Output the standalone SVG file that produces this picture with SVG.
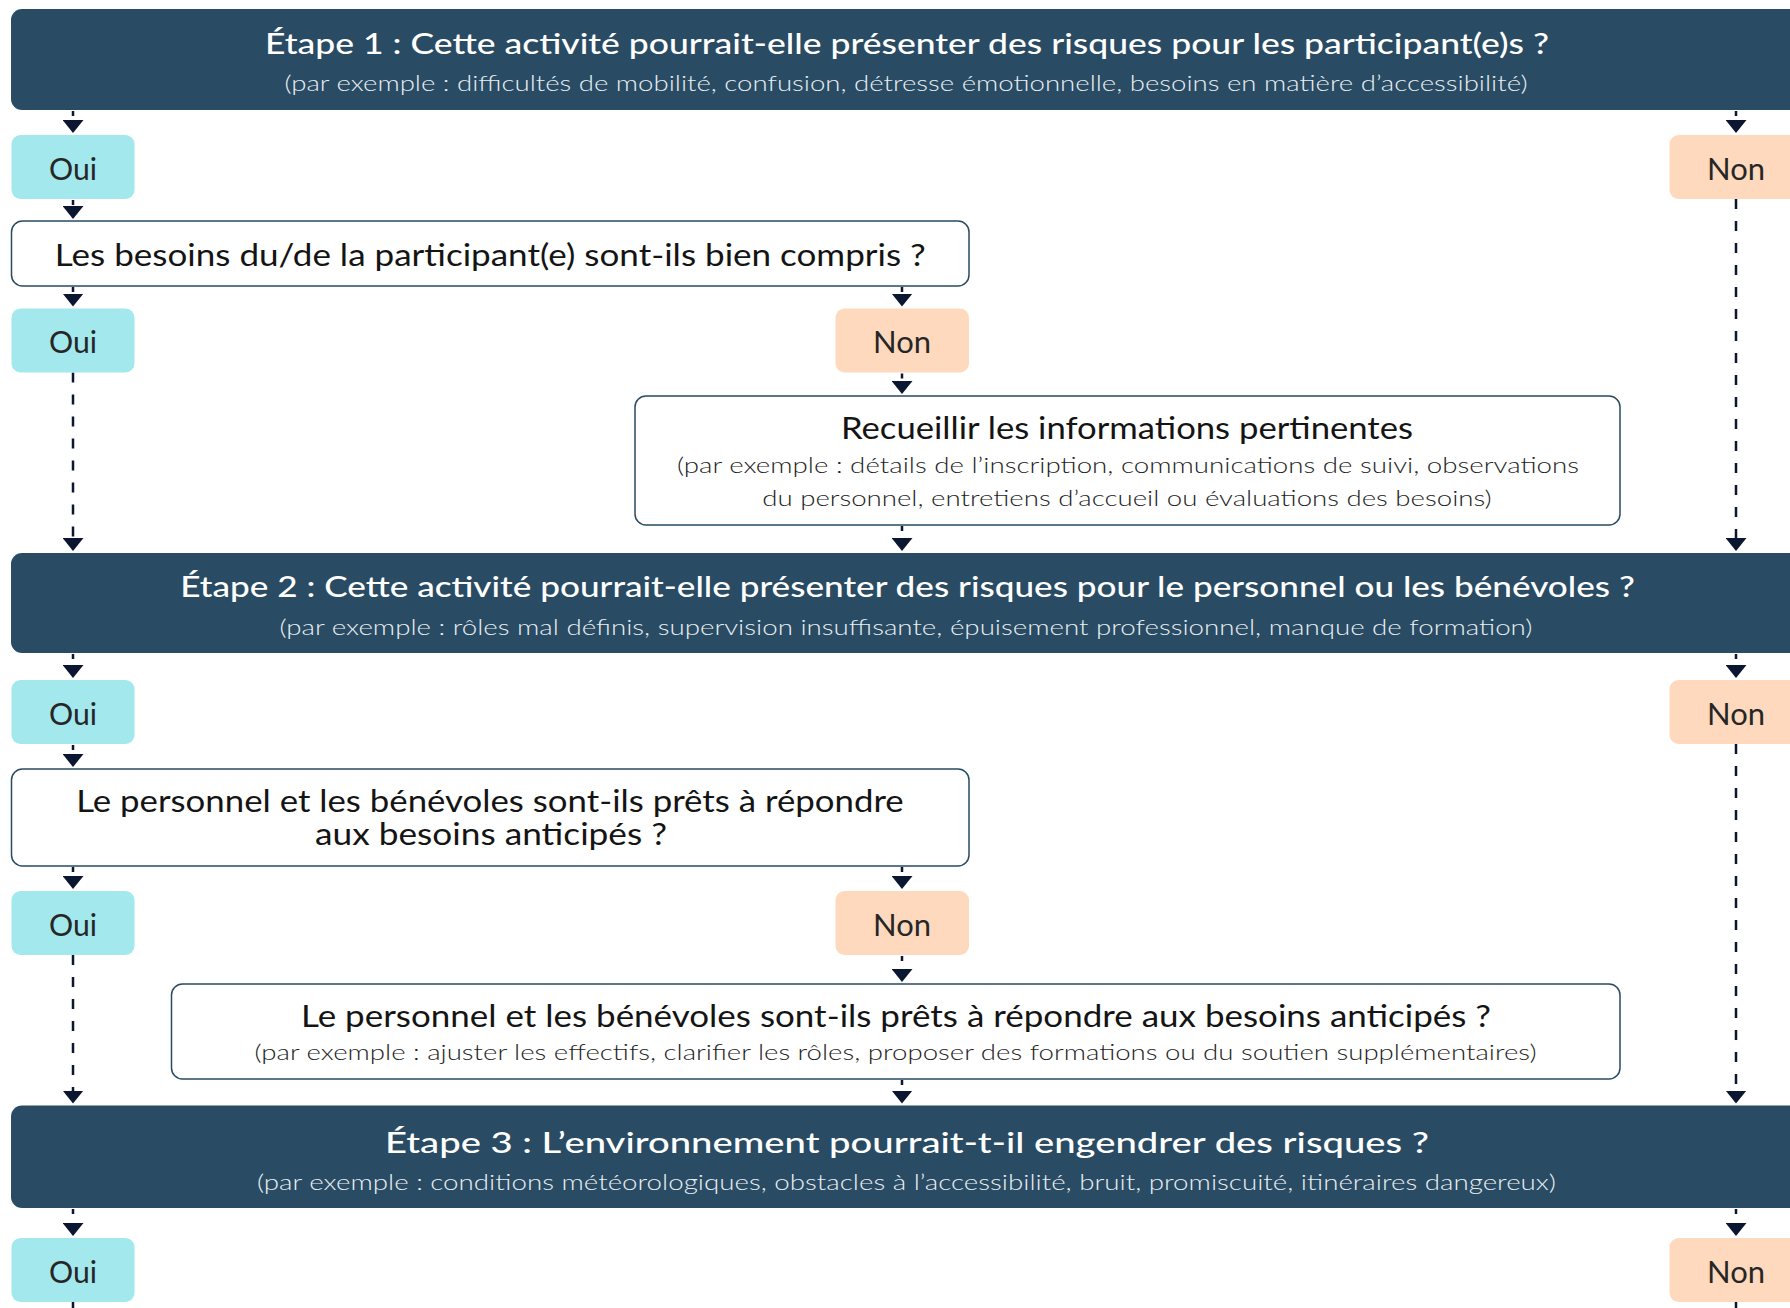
<svg xmlns="http://www.w3.org/2000/svg" width="1790" height="1308" viewBox="0 0 1790 1308">
<defs>
<style>
.step{fill:#294b63}
.oui{fill:#a2e8ec}
.non{fill:#fed9bd}
.box{fill:#ffffff;stroke:#294b63;stroke-width:1.5}
.t{font-family:Lato,"Liberation Sans",sans-serif;text-anchor:middle}
.ttl{font-size:29px;font-weight:500;fill:#ffffff}
.tsub{font-size:22px;font-weight:300;fill:#e8eef2}
.nt{font-size:30px;font-weight:400;fill:#141414}
.ns{font-size:22px;font-weight:300;fill:#1e1e1e}
.yn{font-size:30px;font-weight:400;fill:#262626}
.c{fill:none;stroke:#0b1730;stroke-width:2.5;marker-end:url(#ah)}
.long{stroke-dasharray:10 12}
.short{stroke-dasharray:0 1 5 100}
</style>
<marker id="ah" markerUnits="userSpaceOnUse" markerWidth="13" markerHeight="21" refX="11" refY="10.5" orient="auto" viewBox="0 0 13 21">
<path d="M0,0 L13,10.5 L0,21 Z" fill="#0b1730"/>
</marker>
</defs>
<rect width="1790" height="1308" fill="#ffffff"/>

<g id="connectors">
<path class="c short" d="M73,110 V131"/>
<path class="c short" d="M1736,110 V131"/>
<path class="c short" d="M73,199 V217"/>
<path class="c short" d="M73,286 V304.5"/>
<path class="c short" d="M902,286 V304.5"/>
<path class="c short" d="M902,372.5 V392"/>
<path class="c long" d="M73,372.5 V549"/>
<path class="c short" d="M902,525 V549"/>
<path class="c long" d="M1736,199 V549"/>
<path class="c short" d="M73,653 V676"/>
<path class="c short" d="M1736,653 V676"/>
<path class="c short" d="M73,744 V765"/>
<path class="c short" d="M73,866 V887"/>
<path class="c short" d="M902,866 V887"/>
<path class="c short" d="M902,955 V980"/>
<path class="c long" d="M73,955 V1101.5"/>
<path class="c short" d="M902,1079 V1101.5"/>
<path class="c long" d="M1736,744 V1101.5"/>
<path class="c short" d="M73,1208 V1234"/>
<path class="c short" d="M1736,1208 V1234"/>
<path class="long" fill="none" stroke="#0b1730" stroke-width="2.5" d="M73,1302 V1330"/>
<path class="long" fill="none" stroke="#0b1730" stroke-width="2.5" d="M1736,1302 V1330"/>
</g>

<g id="step1">
<rect class="step" x="11" y="9" width="1792" height="101" rx="11"/>
<text class="t ttl" x="907" y="53.5" textLength="1284" lengthAdjust="spacingAndGlyphs">Étape 1 : Cette activité pourrait-elle présenter des risques pour les participant(e)s ?</text>
<text class="t tsub" x="906" y="90.5" textLength="1243" lengthAdjust="spacingAndGlyphs">(par exemple : difficultés de mobilité, confusion, détresse émotionnelle, besoins en matière d’accessibilité)</text>
</g>

<g id="oui1"><rect class="oui" x="11.5" y="135" width="123" height="64" rx="9"/><text class="t yn" x="73" y="179.5" textLength="48" lengthAdjust="spacingAndGlyphs">Oui</text></g>
<g id="non1"><rect class="non" x="1669.5" y="135" width="134" height="64" rx="9"/><text class="t yn" x="1736" y="179.5" textLength="58" lengthAdjust="spacingAndGlyphs">Non</text></g>

<g id="q1">
<rect class="box" x="11.5" y="221" width="957.5" height="65" rx="11"/>
<text class="t nt" x="490.3" y="266" textLength="871" lengthAdjust="spacingAndGlyphs">Les besoins du/de la participant(e) sont-ils bien compris ?</text>
</g>

<g id="oui2"><rect class="oui" x="11.5" y="308.5" width="123" height="64" rx="9"/><text class="t yn" x="73" y="353" textLength="48" lengthAdjust="spacingAndGlyphs">Oui</text></g>
<g id="non2"><rect class="non" x="835.5" y="308.5" width="133.5" height="64" rx="9"/><text class="t yn" x="902" y="353" textLength="58" lengthAdjust="spacingAndGlyphs">Non</text></g>

<g id="gather">
<rect class="box" x="635" y="396" width="985" height="129" rx="11"/>
<text class="t nt" x="1127" y="439.3" textLength="572" lengthAdjust="spacingAndGlyphs">Recueillir les informations pertinentes</text>
<text class="t ns" x="1128" y="473" textLength="902" lengthAdjust="spacingAndGlyphs">(par exemple : détails de l’inscription, communications de suivi, observations</text>
<text class="t ns" x="1127" y="506" textLength="729.5" lengthAdjust="spacingAndGlyphs">du personnel, entretiens d’accueil ou évaluations des besoins)</text>
</g>

<g id="step2">
<rect class="step" x="11" y="553" width="1792" height="100" rx="11"/>
<text class="t ttl" x="907.5" y="596.7" textLength="1454.5" lengthAdjust="spacingAndGlyphs">Étape 2 : Cette activité pourrait-elle présenter des risques pour le personnel ou les bénévoles ?</text>
<text class="t tsub" x="906" y="635" textLength="1253" lengthAdjust="spacingAndGlyphs">(par exemple : rôles mal définis, supervision insuffisante, épuisement professionnel, manque de formation)</text>
</g>

<g id="oui3"><rect class="oui" x="11.5" y="680" width="123" height="64" rx="9"/><text class="t yn" x="73" y="724.5" textLength="48" lengthAdjust="spacingAndGlyphs">Oui</text></g>
<g id="non3"><rect class="non" x="1669.5" y="680" width="134" height="64" rx="9"/><text class="t yn" x="1736" y="724.5" textLength="58" lengthAdjust="spacingAndGlyphs">Non</text></g>

<g id="q2">
<rect class="box" x="11.5" y="769" width="957.5" height="97" rx="11"/>
<text class="t nt" x="490" y="812" textLength="827.5" lengthAdjust="spacingAndGlyphs">Le personnel et les bénévoles sont-ils prêts à répondre</text>
<text class="t nt" x="491" y="845" textLength="352" lengthAdjust="spacingAndGlyphs">aux besoins anticipés ?</text>
</g>

<g id="oui4"><rect class="oui" x="11.5" y="891" width="123" height="64" rx="9"/><text class="t yn" x="73" y="935.5" textLength="48" lengthAdjust="spacingAndGlyphs">Oui</text></g>
<g id="non4"><rect class="non" x="835.5" y="891" width="133.5" height="64" rx="9"/><text class="t yn" x="902" y="935.5" textLength="58" lengthAdjust="spacingAndGlyphs">Non</text></g>

<g id="adjust">
<rect class="box" x="171.5" y="984" width="1448.5" height="95" rx="11"/>
<text class="t nt" x="896" y="1026.7" textLength="1190" lengthAdjust="spacingAndGlyphs">Le personnel et les bénévoles sont-ils prêts à répondre aux besoins anticipés ?</text>
<text class="t ns" x="895.6" y="1060" textLength="1282" lengthAdjust="spacingAndGlyphs">(par exemple : ajuster les effectifs, clarifier les rôles, proposer des formations ou du soutien supplémentaires)</text>
</g>

<g id="step3">
<rect class="step" x="11" y="1105.5" width="1792" height="102.5" rx="11"/>
<text class="t ttl" x="907" y="1152.7" textLength="1044" lengthAdjust="spacingAndGlyphs">Étape 3 : L’environnement pourrait-t-il engendrer des risques ?</text>
<text class="t tsub" x="906.5" y="1190" textLength="1299" lengthAdjust="spacingAndGlyphs">(par exemple : conditions météorologiques, obstacles à l’accessibilité, bruit, promiscuité, itinéraires dangereux)</text>
</g>

<g id="oui5"><rect class="oui" x="11.5" y="1238" width="123" height="64" rx="9"/><text class="t yn" x="73" y="1282.5" textLength="48" lengthAdjust="spacingAndGlyphs">Oui</text></g>
<g id="non5"><rect class="non" x="1669.5" y="1238" width="134" height="64" rx="9"/><text class="t yn" x="1736" y="1282.5" textLength="58" lengthAdjust="spacingAndGlyphs">Non</text></g>
</svg>
